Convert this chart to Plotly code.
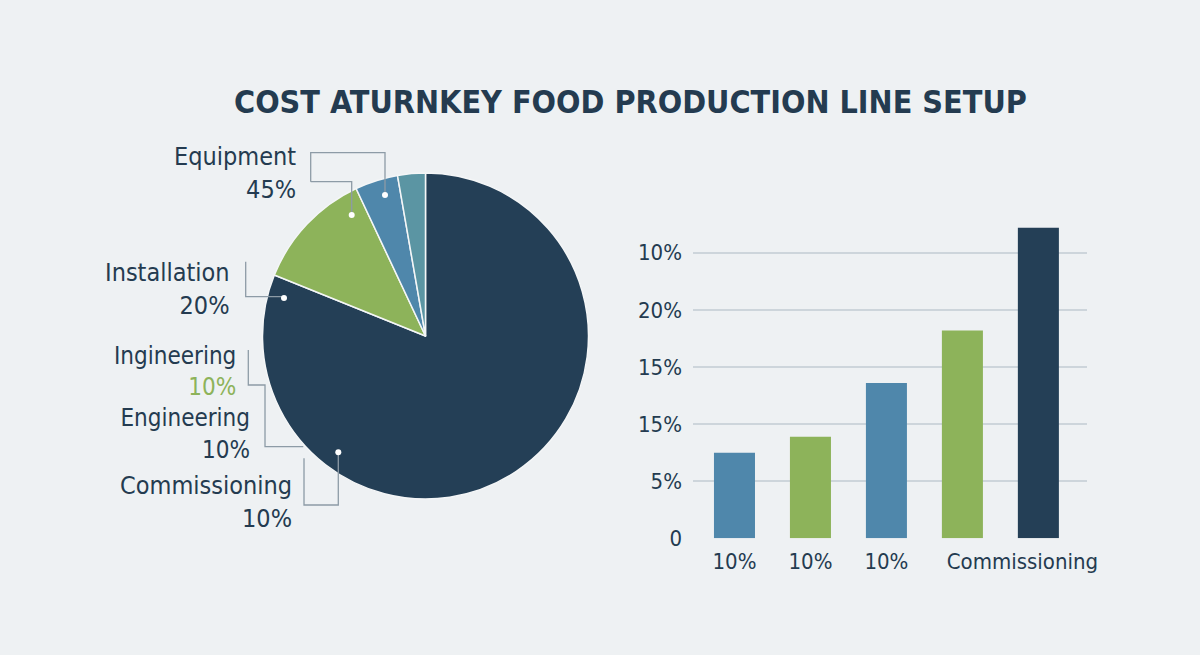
import plotly.graph_objects as go

# ---------------- data ----------------
title_text = "COST ATURNKEY FOOD PRODUCTION LINE SETUP"

pie_labels = ["Commissioning", "Installation", "Equipment", "Other"]
pie_values = [81.1, 11.9, 4.25, 2.75]

bar_categories = [0, 1, 2, 3, 4]
bar_values = [7.5, 8.9, 13.6, 18.2, 27.2]

y_tickvals = [0, 5, 10, 15, 20, 25]
y_ticktext = ["0", "5%", "15%", "15%", "20%", "10%"]

x_tickvals = [0, 1, 2, 3.79]
x_ticktext = ["10%", "10%", "10%", "Commissioning"]

callout_names = ["Equipment", "Installation", "Ingineering", "Engineering", "Commissioning"]
callout_pcts = ["45%", "20%", "10%", "10%", "10%"]

# ---------------- style ----------------
NAVY = "#243f56"
GREEN = "#8db35a"
BLUE = "#4f87ab"
TEAL = "#5b95a3"
TEXT = "#243b50"
LINE = "#8d9ba6"
BG = "#eef1f3"
FONT = "Liberation Sans Narrow, DejaVu Sans Condensed, Roboto Condensed, Roboto, sans-serif"

W, H = 1200, 655
# effective drawing area observed in the viewer
WE, HE = 1189, 642


def px(x):
    return x / WE


def py(y):
    return 1 - y / HE


fig = go.Figure()

cx, cy, r = 425.5, 336, 163
fig.add_trace(go.Pie(
    labels=pie_labels, values=pie_values, sort=False, direction="clockwise",
    rotation=0, textinfo="none", hoverinfo="label+percent", showlegend=False,
    marker=dict(colors=[NAVY, GREEN, BLUE, TEAL], line=dict(color="#f4f6f7", width=1.5)),
    domain=dict(x=[px(cx - r), px(cx + r)], y=[py(cy + r), py(cy - r)]),
))

fig.add_trace(go.Bar(
    x=bar_categories, y=bar_values, width=0.54,
    marker=dict(color=[BLUE, GREEN, BLUE, GREEN, NAVY], line=dict(width=0)),
    showlegend=False,
))

lines = [
    [(310.7, 181.7), (310.7, 152.7), (385, 152.7), (385, 195)],
    [(310.7, 181.7), (351.7, 181.7), (351.7, 215)],
    [(245.7, 261.7), (245.7, 296.7), (284, 296.7)],
    [(248.3, 350), (248.3, 385), (265, 385), (265, 446.7), (303.3, 446.7)],
    [(304, 458.3), (304, 505), (338.3, 505), (338.3, 452.3)],
]
shapes = []
for pts in lines:
    path = "M " + " L ".join(f"{px(x):.5f},{py(y):.5f}" for x, y in pts)
    shapes.append(dict(type="path", path=path, xref="paper", yref="paper", layer="above",
                       line=dict(color=LINE, width=1.3)))

dots = [(385, 195), (351.7, 215), (284, 298), (338.3, 452.3)]
for x, y in dots:
    shapes.append(dict(type="circle", xref="paper", yref="paper", layer="above",
                       x0=px(x - 3), x1=px(x + 3), y0=py(y + 3), y1=py(y - 3),
                       fillcolor="white", line=dict(width=0)))

NB = "\u00a0"
pct_colors = [TEXT, TEXT, GREEN, TEXT, TEXT]


def line_pair(i, pad=""):
    pct = callout_pcts[i]
    if pct_colors[i] != TEXT:
        pct = f'<span style="color:{pct_colors[i]}">{pct}</span>'
    return f"{callout_names[i]}{pad}<br>{pct}{pad}"


callout_texts = [
    line_pair(0),
    line_pair(1),
    line_pair(2, NB * 2) + "<br>" + line_pair(3),
    line_pair(4),
]
callout_pos = [(297, 173.3, 25), (231.5, 289.2, 25), (251, 403, 24), (293, 502, 25)]

annotations = []
for (xr, yc, fs), txt in zip(callout_pos, callout_texts):
    annotations.append(dict(x=px(xr), y=py(yc), xref="paper", yref="paper", text=txt,
                            showarrow=False, xanchor="right", yanchor="middle",
                            align="right", borderpad=0,
                            font=dict(family=FONT, size=fs, color=TEXT)))

annotations.append(dict(x=px(630), y=py(102), xref="paper", yref="paper",
                        text=f"<b>{title_text}</b>", showarrow=False,
                        xanchor="center", yanchor="middle",
                        font=dict(family=FONT, size=32, color=TEXT)))

fig.update_layout(
    width=W, height=H,
    margin=dict(l=0, r=0, t=0, b=0),
    paper_bgcolor=BG, plot_bgcolor="rgba(0,0,0,0)",
    font=dict(family=FONT, color=TEXT),
    xaxis=dict(domain=[px(693), px(1087)], range=[-0.546, 4.64],
               tickvals=x_tickvals, ticktext=x_ticktext, ticks="",
               showgrid=False, zeroline=False, showline=False,
               tickfont=dict(family=FONT, size=22, color=TEXT), ticklabelstandoff=8,
               fixedrange=True),
    yaxis=dict(domain=[py(538.3), py(218.5)], range=[0, 28],
               tickvals=y_tickvals, ticktext=y_ticktext, ticks="",
               showgrid=True, gridcolor="#cdd5db", gridwidth=1.5,
               zeroline=False, showline=False,
               tickfont=dict(family=FONT, size=22, color=TEXT), ticklabelstandoff=10,
               fixedrange=True),
    shapes=shapes,
    annotations=annotations,
)

fig.write_html("out.html")
